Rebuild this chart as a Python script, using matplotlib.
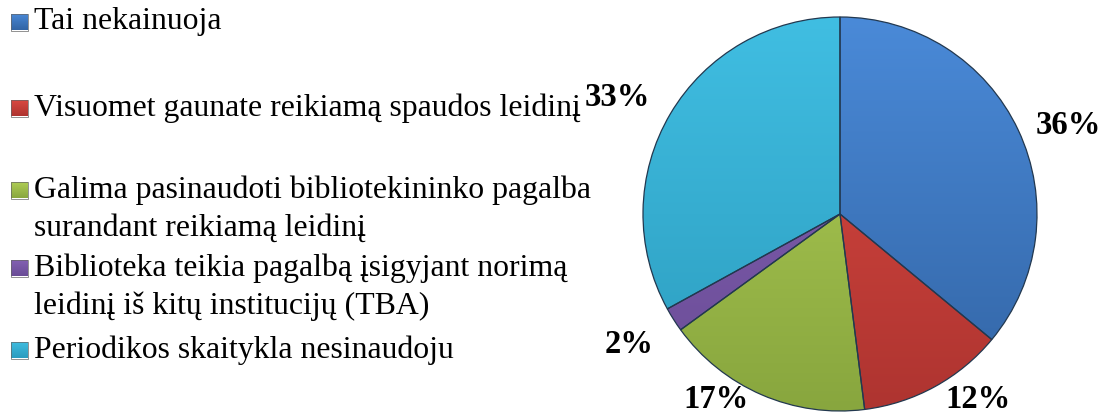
#!/usr/bin/env python3
# -*- coding: UTF-8 -*-
import matplotlib
matplotlib.use('Agg')
import matplotlib.pyplot as plt
import numpy as np
from matplotlib.colors import to_rgb
from matplotlib.patches import Rectangle

categories = ['Tai nekainuoja',
              'Visuomet gaunate reikiamą spaudos leidinį',
              'Galima pasinaudoti bibliotekininko pagalba\nsurandant reikiamą leidinį',
              'Biblioteka teikia pagalbą įsigyjant norimą\nleidinį iš kitų institucijų (TBA)',
              'Periodikos skaitykla nesinaudoju']
values = [36, 12, 17, 2, 33]
pct_labels = ['36%', '12%', '17%', '2%', '33%']
top_colors = ['#4A8AD8', '#DC4A42', '#B2D057', '#8462B4', '#40BEE2']
bottom_colors = ['#3264A4', '#AE3430', '#88A63E', '#6A4C96', '#2C9CBE']

W, H = 1104, 416
plt.rcParams['font.family'] = ['Liberation Serif', 'DejaVu Serif']

fig = plt.figure(figsize=(W / 100, H / 100), dpi=100)
ax = fig.add_axes([0, 0, 1, 1])
ax.set_xlim(0, W)
ax.set_ylim(0, H)
ax.axis('off')

cx, cy, r = 840, 202, 197
wedges, _ = ax.pie(values, startangle=90, counterclock=False, center=(cx, cy),
                   radius=r, frame=True,
                   wedgeprops=dict(edgecolor='#22384f', linewidth=0.9))


def gradient_img(c1, c2, extent, clip):
    a = np.array(to_rgb(c1))
    b = np.array(to_rgb(c2))
    t = np.linspace(0, 1, 256)[:, None]
    img = (a * (1 - t) + b * t)[:, None, :]
    im = ax.imshow(img, extent=extent, origin='upper', aspect='auto', zorder=2)
    im.set_clip_path(clip)


for w, c1, c2 in zip(wedges, top_colors, bottom_colors):
    w.set_facecolor('none')
    w.set_zorder(3)
    gradient_img(c1, c2, [cx - r, cx + r, cy - r, cy + r], w)

# percent labels (positions relative to pie center, in radius units)
label_pos = [(1.16, 0.45), (0.70, -0.94), (-0.63, -0.94), (-1.07, -0.66), (-1.13, 0.59)]
for txt, (lx, ly) in zip(pct_labels, label_pos):
    ax.text(cx + lx * r, cy + ly * r, txt, fontsize=23.5, fontweight='bold',
            ha='center', va='center', zorder=5)

# legend drawn by hand
row_y = [22, 108, 190, 268, 350]
line_gap = 38
for name, y, c1, c2 in zip(categories, row_y, top_colors, bottom_colors):
    s = 17
    rect = Rectangle((11, H - y - s / 2), s, s, facecolor='none',
                     edgecolor='#666666', linewidth=0.5, zorder=4)
    ax.add_patch(rect)
    gradient_img(c1, c2, [11, 11 + s, H - y - s / 2, H - y + s / 2], rect)
    for i, line in enumerate(name.split('\n')):
        ax.text(34, H - y - i * line_gap, line, fontsize=22.9, ha='left',
                va='center', zorder=5)

ax.set_xlim(0, W)
ax.set_ylim(0, H)
ax.set_aspect('auto')
fig.savefig('out.png', dpi=100)
